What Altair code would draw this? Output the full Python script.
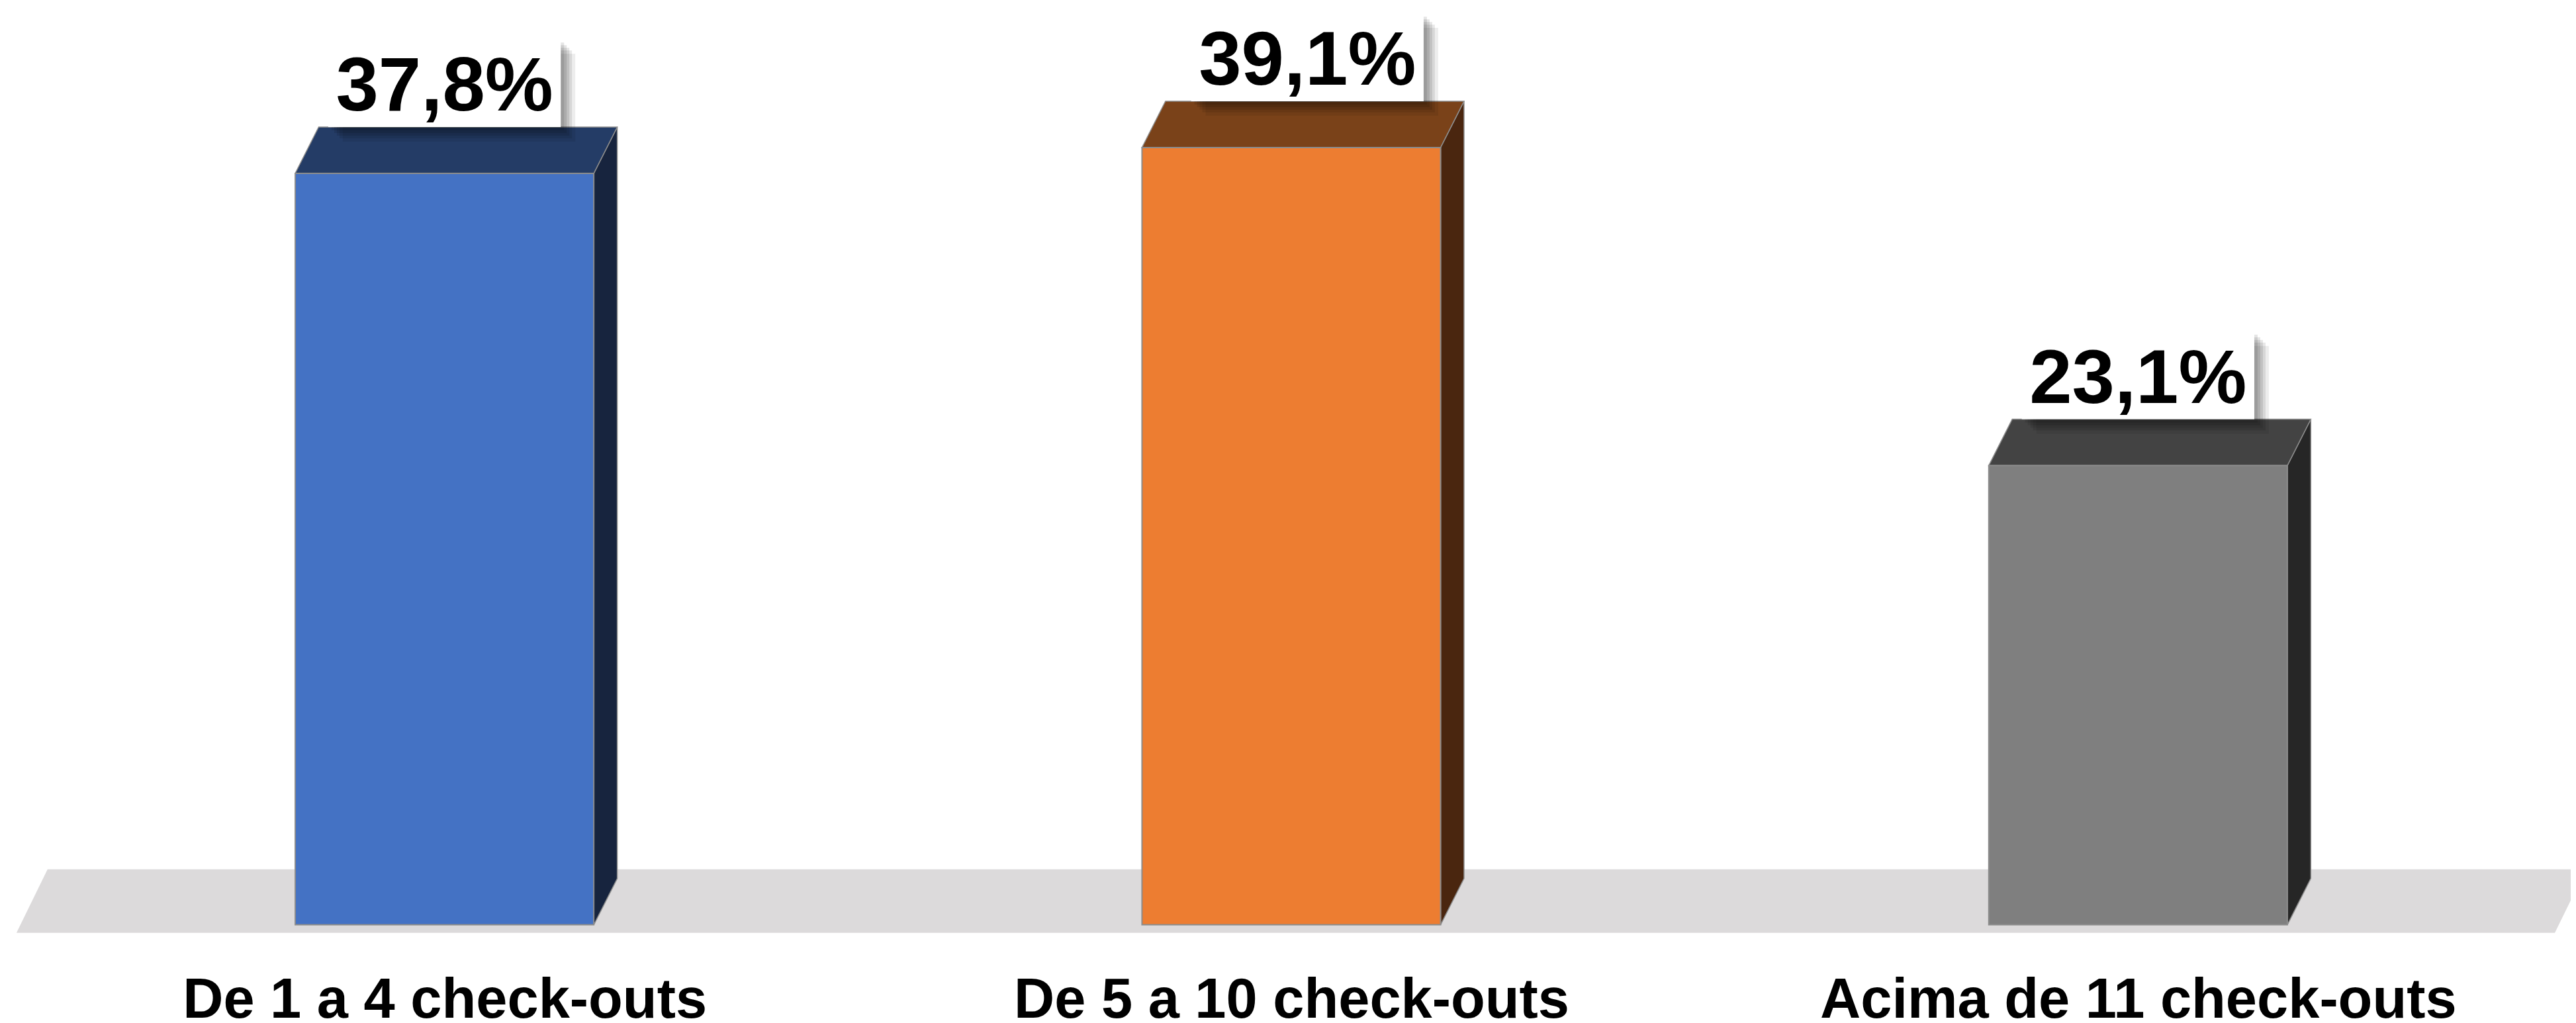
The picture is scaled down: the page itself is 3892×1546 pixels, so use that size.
import json
import altair as alt
import pandas as pd

# ---------------- data ----------------
categories = ["De 1 a 4 check-outs", "De 5 a 10 check-outs", "Acima de 11 check-outs"]
values = [37.8, 39.1, 23.1]

# ---------------- styles ----------------
front_colors = ["#4472C4", "#ED7D31", "#7F7F7F"]
top_colors = ["#243C66", "#7A4219", "#434343"]
side_colors = ["#17243E", "#4A260F", "#262626"]
floor_color = "#DCDADB"
edge_color = "#8C8C8C"
FONT = "Liberation Sans"

# ---------------- layout (scale units) ----------------
HALF_W = 0.1763      # half bar width (x units)
DEPTH_X = 0.0277     # 3D depth, x units
DEPTH_Y = 2.33       # 3D depth, y units
LABEL_NUDGE = [0.0, 0.019, 0.0]
X_DOMAIN = [-0.5187, 2.5047]
Y_DOMAIN = [-1.0, 46.2]
FLOOR_Y = [-0.40, 2.79]
FLOOR_X = [-0.5055, 2.4922]
FLOOR_SLANT = 0.0367

n = len(categories)
idx = list(range(n))

bars = pd.DataFrame({
    "category": categories,
    "value": values,
    "left": [i - HALF_W for i in idx],
    "right": [i + HALF_W for i in idx],
    "top": [v + DEPTH_Y for v in values],
    "label_x": [i + LABEL_NUDGE[i] for i in idx],
    "label": [f"{v:.1f}".replace(".", ",") + "%" for v in values],
})
bars["zero"] = 0.0

top_rows, side_rows = [], []
for i, (c, v) in enumerate(zip(categories, values)):
    L, R = i - HALF_W, i + HALF_W
    top_rows += [
        {"category": c, "x": L, "y": v, "y2": v},
        {"category": c, "x": L + DEPTH_X, "y": v, "y2": v + DEPTH_Y},
        {"category": c, "x": R, "y": v, "y2": v + DEPTH_Y},
        {"category": c, "x": R + DEPTH_X, "y": v + DEPTH_Y, "y2": v + DEPTH_Y},
    ]
    side_rows += [
        {"category": c, "x": R, "y": 0.0, "y2": v},
        {"category": c, "x": R + DEPTH_X, "y": DEPTH_Y, "y2": v + DEPTH_Y},
    ]
top_df = pd.DataFrame(top_rows)
side_df = pd.DataFrame(side_rows)

b, t = FLOOR_Y
floor_df = pd.DataFrame([
    {"x": FLOOR_X[0], "y": b, "y2": b},
    {"x": FLOOR_X[0] + FLOOR_SLANT, "y": b, "y2": t},
    {"x": FLOOR_X[1], "y": b, "y2": t},
    {"x": FLOOR_X[1] + FLOOR_SLANT, "y": t, "y2": t},
])

xs = alt.Scale(domain=X_DOMAIN, nice=False, zero=False)
ys = alt.Scale(domain=Y_DOMAIN, nice=False, zero=False)
xaxis = alt.Axis(
    values=idx,
    labelExpr=json.dumps(categories) + "[datum.value]",
    domain=False, ticks=False, grid=False,
    labelFont=FONT, labelFontSize=85, labelFontWeight="bold", labelColor="#000000",
    labelPadding=110, labelBaseline="alphabetic", labelLimit=2000,
    labelFlush=False, labelOverlap=False, labelBound=False, title=None,
)


def X(field):
    return alt.X(field, type="quantitative", scale=xs, axis=xaxis)


def Y(field):
    return alt.Y(field, type="quantitative", scale=ys, axis=None, stack=False)


def colour(rng):
    return alt.Color("category:N", scale=alt.Scale(domain=categories, range=rng), legend=None)


floor = alt.Chart(floor_df).mark_area(color=floor_color, clip=False).encode(
    x=X("x"), y=Y("y"), y2="y2"
)

side = alt.Chart(side_df).mark_area(stroke=edge_color, strokeWidth=1.5, opacity=1).encode(
    x=X("x"), y=Y("y"), y2="y2", color=colour(side_colors), detail="category:N"
)

topface = alt.Chart(top_df).mark_area(stroke=edge_color, strokeWidth=1.5, opacity=1).encode(
    x=X("x"), y=Y("y"), y2="y2", color=colour(top_colors), detail="category:N"
)

front = alt.Chart(bars).mark_rect(stroke=edge_color, strokeWidth=2).encode(
    x=X("left"), x2="right", y=Y("zero"), y2="value", color=colour(front_colors)
)

BOX_HALF = 176
BOX_H = 133
shadows = []
for s, op in [(5, 0.10), (9, 0.10), (13, 0.10), (17, 0.09), (22, 0.07)]:
    shadows.append(
        alt.Chart(bars).mark_rect(
            color="#000000", opacity=op,
            xOffset=-BOX_HALF + s, x2Offset=BOX_HALF + s,
            yOffset=s, y2Offset=-BOX_H + s,
        ).encode(x=X("label_x"), x2="label_x", y=Y("top"), y2="top")
    )

box = alt.Chart(bars).mark_rect(
    color="#FFFFFF", xOffset=-BOX_HALF, x2Offset=BOX_HALF, y2Offset=-BOX_H
).encode(x=X("label_x"), x2="label_x", y=Y("top"), y2="top")

text = alt.Chart(bars).mark_text(
    font=FONT, fontSize=116, fontWeight="bold", color="#000000",
    align="center", baseline="alphabetic", dy=-25,
).encode(x=X("label_x"), y=Y("top"), text="label:N")

chart = alt.layer(floor, side, topface, front, *shadows, box, text).resolve_scale(
    color="independent"
).properties(
    width=3876, height=1421,
    autosize=alt.AutoSizeParams(type="none"),
    padding={"left": 0, "top": 0, "right": 8, "bottom": 117},
    background="#FFFFFF",
).configure_view(strokeWidth=0)

chart.save("out.html", embed_options={"renderer": "svg", "actions": False})
